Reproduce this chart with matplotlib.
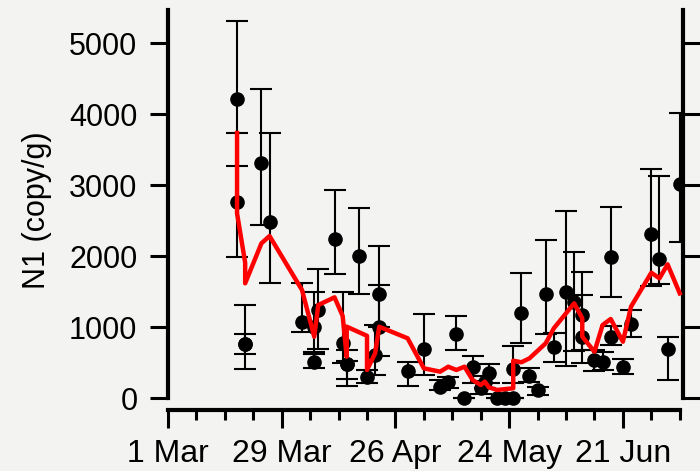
import pandas as pd
import matplotlib
matplotlib.use('Agg')
import matplotlib.pyplot as plt
import matplotlib.dates as mdates

# --- measured samples: date, mean N1, lower / upper error bounds ---
sample_dates = ['2020-03-18', '2020-03-18', '2020-03-20', '2020-03-20', '2020-03-24',
                '2020-03-26', '2020-04-03', '2020-04-06', '2020-04-06', '2020-04-07',
                '2020-04-11', '2020-04-13', '2020-04-14', '2020-04-14', '2020-04-17',
                '2020-04-19', '2020-04-21', '2020-04-22', '2020-04-22', '2020-04-29',
                '2020-05-03', '2020-05-07', '2020-05-09', '2020-05-11', '2020-05-13',
                '2020-05-15', '2020-05-17', '2020-05-19', '2020-05-18', '2020-05-21',
                '2020-05-23', '2020-05-25', '2020-05-25', '2020-05-27', '2020-05-29',
                '2020-05-31', '2020-06-02', '2020-06-04', '2020-06-07', '2020-06-09',
                '2020-06-11', '2020-06-11', '2020-06-14', '2020-06-16', '2020-06-18',
                '2020-06-18', '2020-06-21', '2020-06-23', '2020-06-28', '2020-06-30',
                '2020-07-02', '2020-07-05']
n1_mean = [4210, 2770, 760, 760, 3310,
           2487, 1070, 507, 1000, 1244,
           2239, 775, 483, 483, 2009,
           305, 610, 1469, 1000, 389,
           694, 164, 234, 901, 8,
           437, 141, 352, 234, 0,
           0, 0, 408, 1197, 314,
           117, 1465, 727, 1501, 1361,
           1173, 868, 539, 516, 1994,
           868, 445, 1046, 2310, 1966,
           694, 3014]
n1_low = [3276, 1986, 408, 620, 2441,
          1620, 938, 431, 630, 700,
          1746, 500, 173, 272, 1465,
          211, 328, 1000, 600, 173,
          328, 117, 150, 680, 8,
          211, 60, 211, 150, 0,
          0, 0, 211, 775, 234,
          46, 906, 516, 455, 670,
          493, 680, 385, 399, 1431,
          746, 342, 868, 1586, 1606,
          258, 2197]
n1_high = [5320, 3741, 1314, 910, 4356,
           3737, 1628, 648, 1502, 1817,
           2934, 1493, 680, 525, 2685,
           399, 1032, 2150, 1596, 516,
           1183, 254, 300, 1163, 8,
           600, 250, 479, 320, 0,
           0, 0, 737, 1761, 423,
           163, 2230, 915, 2638, 2065,
           1775, 1455, 680, 656, 2699,
           1018, 553, 1244, 3230, 3135,
           868, 4014]

# --- model curve (red) ---
model_dates = ['2020-03-18', '2020-03-18', '2020-03-20', '2020-03-20', '2020-03-24',
               '2020-03-26', '2020-04-03', '2020-04-06', '2020-04-07', '2020-04-11',
               '2020-04-13', '2020-04-14', '2020-04-14', '2020-04-19', '2020-04-19',
               '2020-04-21', '2020-04-22', '2020-04-29', '2020-05-03', '2020-05-07',
               '2020-05-09', '2020-05-11', '2020-05-13', '2020-05-15', '2020-05-17',
               '2020-05-18', '2020-05-19', '2020-05-21', '2020-05-25', '2020-05-25',
               '2020-05-27', '2020-05-29', '2020-06-02', '2020-06-04', '2020-06-09',
               '2020-06-11', '2020-06-11', '2020-06-14', '2020-06-16', '2020-06-18',
               '2020-06-21', '2020-06-23', '2020-06-28', '2020-06-30', '2020-07-02',
               '2020-07-05']
model_n1 = [3737, 2606, 1910, 1620, 2183,
            2286, 1525, 868, 1314, 1422,
            1160, 586, 1009, 880, 399,
            634, 1009, 845, 422, 375,
            445, 399, 445, 258, 187,
            234, 155, 117, 141, 530,
            507, 563, 775, 986, 1338,
            1127, 868, 656, 1032, 1117,
            797, 1291, 1769, 1690, 1887,
            1479]

major_dates = ['2020-03-01', '2020-03-29', '2020-04-26', '2020-05-24', '2020-06-21']
major_labels = ['1 Mar', '29 Mar', '26 Apr', '24 May', '21 Jun']
y_ticks = [0, 1000, 2000, 3000, 4000, 5000]

# --- figure ---
bg = '#f3f3f1'
plt.rcParams['font.family'] = ['Liberation Sans', 'DejaVu Sans']

fig = plt.figure(figsize=(7, 4.71), dpi=100, facecolor=bg)
ax = fig.add_axes([168 / 700, 1 - 410 / 471, (683 - 168) / 700, 400 / 471])
ax.set_facecolor(bg)

sd = pd.to_datetime(sample_dates)
mean = pd.Series(n1_mean)
err = [mean - pd.Series(n1_low), pd.Series(n1_high) - mean]
ax.errorbar(sd, mean, yerr=err, fmt='o', color='black', ecolor='black',
            markersize=9.5, elinewidth=1.5, capsize=8, capthick=1.5, zorder=2)

ax.plot(pd.to_datetime(model_dates), model_n1, color='red', lw=3.2, zorder=3)

# axes limits
start = pd.Timestamp('2020-03-01')
ax.set_xlim(start, start + pd.Timedelta(days=126.8))
ax.set_ylim(-165, 5470)

# spines like base R
ax.spines['top'].set_visible(False)
for s in ['left', 'right', 'bottom']:
    ax.spines[s].set_linewidth(3)
ax.spines['left'].set_bounds(0, 5470)
ax.spines['right'].set_bounds(0, 5470)
ax.spines['bottom'].set_bounds(mdates.date2num(start),
                               mdates.date2num(pd.Timestamp('2020-07-05')))

# y ticks both sides
ax.set_yticks(y_ticks)
ax.tick_params(axis='y', which='major', length=13, width=2.2, labelsize=22, pad=9,
               right=True, labelright=False)

# x ticks
ax.set_xticks(pd.to_datetime(major_dates))
ax.set_xticklabels(major_labels)
ax.set_xticks(pd.date_range('2020-03-01', '2020-07-05', freq='7D'), minor=True)
ax.tick_params(axis='x', which='major', length=13, width=2.2, labelsize=23, pad=8)
ax.tick_params(axis='x', which='minor', length=7, width=2.2)

ax.set_ylabel('N1 (copy/g)', fontsize=22, labelpad=12)

plt.savefig('out.png', dpi=100, facecolor=bg)
